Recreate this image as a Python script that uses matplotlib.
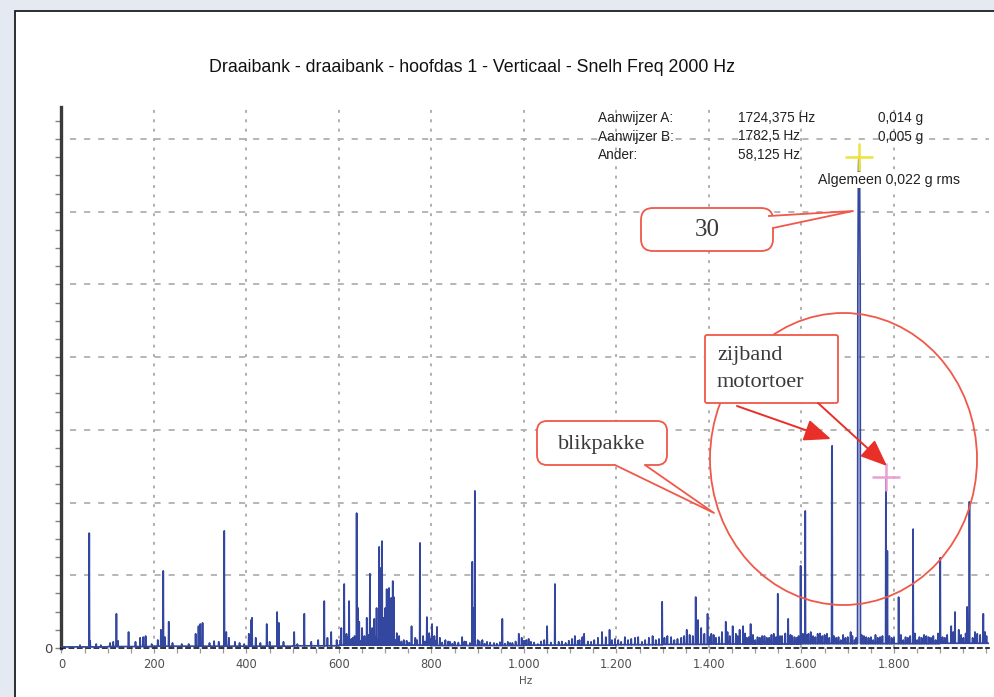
import numpy as np
import matplotlib
matplotlib.use('Agg')
import matplotlib.pyplot as plt
from matplotlib.patches import Rectangle, FancyBboxPatch, Ellipse, Polygon, FancyArrowPatch
from matplotlib.lines import Line2D
from matplotlib.transforms import Affine2D

W, H = 995, 697

# spectrum lines: frequency (Hz) and amplitude (mg)
peak_hz = [40, 60, 62, 75, 85, 105, 112, 119, 122, 145, 160, 170, 177, 182, 195,
           208, 215, 220, 224, 232, 240, 260, 275, 290, 296, 300, 305, 320, 330, 340,
           352, 356, 362, 375, 385, 395,
           405, 410, 412, 420, 430, 444, 450, 466, 470, 480, 503, 510, 525, 540, 555,
           568, 575, 583, 595,
           605, 611, 616, 622, 630, 638, 641, 644, 650, 655, 660, 667, 672, 676, 681,
           687, 690, 693, 697, 700, 703, 708, 713, 716, 719, 725, 730, 740, 757, 765,
           775, 782, 790, 795, 801,
           806, 812, 818, 830, 840, 850, 866, 875, 888, 891, 894, 900, 910, 920, 935,
           953, 965, 975, 989, 995,
           1005, 1015, 1030, 1050, 1067, 1075, 1090, 1110, 1120, 1130, 1145, 1160, 1169,
           1185, 1190,
           1210, 1225, 1240, 1255, 1270, 1285, 1299, 1310, 1325, 1340, 1352, 1365, 1371,
           1376, 1383, 1390, 1397,
           1405, 1415, 1428, 1436, 1445, 1451, 1458, 1466, 1474, 1482, 1490, 1500, 1510,
           1520, 1530, 1540, 1549, 1558, 1571, 1580, 1590, 1598, 1603,
           1608, 1615, 1625, 1635, 1645, 1655, 1660, 1665.625, 1666.25, 1675, 1685, 1695,
           1706, 1715,
           1721.875, 1722.5, 1723.125, 1723.75, 1724.375, 1725.0, 1725.625, 1726.25, 1726.875,
           1735, 1745, 1755, 1765, 1775, 1782.5, 1785.625, 1795, 1810, 1820, 1830, 1841,
           1850, 1860, 1870, 1880, 1890, 1900, 1910, 1924, 1932, 1940, 1950, 1958, 1963,
           1970, 1980, 1993, 2000]
peak_mg = [0.08, 3.16, 0.2, 0.11, 0.08, 0.14, 0.17, 0.94, 0.2, 0.44, 0.17, 0.28, 0.3, 0.33, 0.11,
           0.22, 0.5, 2.12, 0.3, 0.72, 0.14, 0.11, 0.11, 0.39, 0.6, 0.66, 0.69, 0.14, 0.19, 0.17,
           3.22, 0.44, 0.28, 0.17, 0.14, 0.11,
           0.39, 0.77, 0.83, 0.28, 0.14, 0.66, 0.17, 0.99, 0.69, 0.17, 0.44, 0.11, 0.94, 0.17, 0.22,
           1.29, 0.28, 0.44, 0.22,
           0.55, 1.76, 0.39, 1.29, 0.28, 3.71, 1.1, 0.72, 0.55, 0.33, 0.83, 2.04, 0.55, 0.8, 1.1,
           2.78, 2.2, 2.94, 0.83, 1.1, 1.62, 1.65, 1.38, 1.84, 1.4, 0.41, 0.33, 0.22, 0.6, 0.28,
           2.89, 0.33, 0.85, 0.41, 0.66,
           0.33, 0.58, 0.28, 0.22, 0.17, 0.17, 0.3, 0.17, 2.37, 1.1, 4.32, 0.22, 0.22, 0.17, 0.14,
           0.8, 0.17, 0.14, 0.39, 0.28,
           0.22, 0.17, 0.11, 0.6, 1.76, 0.17, 0.14, 0.33, 0.22, 0.39, 0.17, 0.28, 0.44,
           0.5, 0.22,
           0.17, 0.22, 0.28, 0.17, 0.28, 0.22, 1.27, 0.33, 0.22, 0.28, 0.5, 0.33, 1.4,
           0.77, 0.55, 0.39, 0.94,
           0.39, 0.28, 0.44, 0.72, 0.33, 0.6, 0.39, 0.5, 0.6, 0.28, 0.66, 0.22, 0.28,
           0.33, 0.28, 0.39, 1.49, 0.33, 0.8, 0.33, 0.28, 2.26, 0.39,
           3.77, 0.39, 0.33, 0.39, 0.33, 0.39, 0.28, 5.4, 5.56, 0.28, 0.22, 0.28,
           0.44, 0.22,
           10.0, 11.5, 13.0, 13.4, 13.5, 13.4, 13.0, 11.5, 10.0,
           0.33, 0.28, 0.22, 0.28, 0.33, 4.7, 2.67, 0.28, 1.4, 0.22, 0.28, 3.27,
           0.22, 0.28, 0.33, 0.28, 0.22, 2.48, 0.28, 0.6, 0.99, 0.5, 0.28, 1.13, 4.02,
           0.28, 0.39, 0.94, 0.33]

# small "grass" lines in the noise floor (Hz, mg)
grass_hz = [603, 618, 627, 634, 647, 652, 663, 679, 684, 711,
            722, 735, 746, 752, 769, 786, 798, 809, 823, 836,
            845, 858, 871, 883, 904, 915, 927, 941, 948, 959,
            970, 982, 1000, 1010, 1022, 1037, 1044, 1058, 1082, 1097,
            1104, 1116, 1126, 1138, 1152, 1177, 1197, 1204, 1218, 1232,
            1247, 1262, 1278, 1292, 1304, 1318, 1332, 1346, 1358, 1402,
            1410, 1422, 1440, 1462, 1478, 1486, 1495, 1505, 1515, 1525,
            1535, 1545, 1554, 1565, 1576, 1585, 1594, 1612, 1620, 1630,
            1640, 1650, 1670, 1680, 1690, 1700, 1710, 1718, 1730, 1740,
            1750, 1760, 1770, 1790, 1800, 1815, 1825, 1835, 1845, 1855,
            1865, 1875, 1885, 1895, 1905, 1915, 1928, 1945, 1955, 1975,
            1986, 1997]
grass_mg = [0.22, 0.3, 0.25, 0.33, 0.2, 0.28, 0.36, 0.3, 0.25, 0.3,
            0.22, 0.18, 0.2, 0.15, 0.22, 0.18, 0.25, 0.2, 0.15, 0.18,
            0.12, 0.15, 0.18, 0.14, 0.18, 0.12, 0.15, 0.12, 0.16, 0.12,
            0.14, 0.18, 0.2, 0.25, 0.15, 0.18, 0.22, 0.15, 0.18, 0.2,
            0.25, 0.2, 0.3, 0.18, 0.22, 0.3, 0.25, 0.22, 0.3, 0.25,
            0.3, 0.22, 0.33, 0.25, 0.28, 0.3, 0.25, 0.33, 0.36, 0.3,
            0.36, 0.3, 0.44, 0.33, 0.4, 0.3, 0.36, 0.3, 0.33, 0.28,
            0.36, 0.3, 0.33, 0.4, 0.36, 0.3, 0.33, 0.36, 0.44, 0.3,
            0.4, 0.36, 0.33, 0.3, 0.36, 0.3, 0.33, 0.28, 0.36, 0.3,
            0.3, 0.36, 0.3, 0.33, 0.28, 0.36, 0.3, 0.33, 0.4, 0.3,
            0.36, 0.3, 0.33, 0.4, 0.3, 0.36, 0.44, 0.36, 0.4, 0.44,
            0.36, 0.44]

# noise floor per 100 Hz band (mg)
floor_mg = [0.03, 0.04, 0.05, 0.05, 0.05, 0.06, 0.08, 0.08, 0.07, 0.07,
            0.08, 0.08, 0.09, 0.1, 0.11, 0.11, 0.12, 0.12, 0.12, 0.13]

bin_hz = 0.625
xtick_vals = [0, 200, 400, 600, 800, 1000, 1200, 1400, 1600, 1800]
xtick_text = ['0', '200', '400', '600', '800', '1.000', '1.200', '1.400', '1.600', '1.800']

cursor_a_hz, cursor_b_hz = 1724.375, 1782.5

freq = np.arange(0, 2006, bin_hz)
amp = np.array([floor_mg[min(int(f // 100), len(floor_mg) - 1)] for f in freq])
for f, a in zip(grass_hz + peak_hz, grass_mg + peak_mg):
    amp[int(round(f / bin_hz))] = a

fig = plt.figure(figsize=(W / 100, H / 100), dpi=100)
fig.patch.set_facecolor('#e4e9f2')
tr = Affine2D().scale(1, -1).translate(0, H)  # top-left pixel coordinates

fig.add_artist(Rectangle((15, 11), 1000, H, transform=tr, facecolor='white',
                         edgecolor='#1e1e1e', lw=1.3, zorder=-5))

ax = fig.add_axes([61.5 / W, (H - 648) / H, 927.3 / W, 541 / H])
ax.set_facecolor('none')
ax.set_xlim(0, 2005)
ax.set_ylim(0, 14.88)

for x in xtick_vals[1:]:
    ax.axvline(x, color='#a8a8a8', lw=1.3, ls=(0, (1.6, 3.6)), zorder=1)
for y in range(2, 15, 2):
    ax.axhline(y, xmin=0.009, color='#b0b0b0', lw=1.3, ls=(0, (3.4, 4.4)), zorder=1)

ax.plot(freq, amp, color='#3447a0', lw=1.25, zorder=3)

# cursors
ia = int(round(cursor_a_hz / bin_hz))
ib = int(round(cursor_b_hz / bin_hz))
ax.plot(freq[ia], amp[ia], marker='+', ms=20, mew=1.8, color='#ece23a', zorder=5, clip_on=False)
ax.plot(freq[ib], amp[ib], marker='+', ms=20, mew=1.8, color='#eaa0d2', zorder=5, clip_on=False)

ax.set_xticks(xtick_vals)
ax.set_xticklabels(xtick_text)
ax.set_xticks(np.arange(0, 2001, 50), minor=True)
ax.set_yticks(range(0, 15, 2))
ax.set_yticklabels(['0'] + [''] * 7)
ax.set_yticks(np.arange(0, 14.9, 0.5), minor=True)
ax.tick_params(axis='x', which='both', direction='out', length=3.5, width=0.9,
               color='#9a9a9a', labelsize=8.3, labelcolor='#505050', pad=4)
ax.tick_params(axis='y', which='both', direction='out', length=4.5, width=1,
               color='#808080', labelsize=9.5, labelcolor='#404040', pad=2)
for s in ['top', 'right']:
    ax.spines[s].set_visible(False)
ax.spines['left'].set_color('#3a3a3a')
ax.spines['left'].set_linewidth(2.4)
ax.spines['bottom'].set_color('#111111')
ax.spines['bottom'].set_linestyle((0, (2.5, 2.5)))
ax.spines['bottom'].set_linewidth(1.2)
ax.set_xlabel('Hz', fontsize=7.5, color='#505050', labelpad=3)

sans = ['Liberation Sans Narrow', 'Liberation Sans', 'DejaVu Sans']
fig.text(472, 67, 'Draaibank - draaibank - hoofdas 1 - Verticaal - Snelh Freq 2000 Hz',
         transform=tr, ha='center', va='center', fontsize=12.8, family=sans, color='#111111')

rows = [('Aanwijzer A:', '1724,375 Hz', '0,014 g'),
        ('Aanwijzer B:', '1782,5 Hz', '0,005 g'),
        ('Ander:', '58,125 Hz', '')]
for i, (a, b, c) in enumerate(rows):
    yy = 118 + i * 18.5
    fig.text(598, yy, a, transform=tr, va='center', fontsize=9.8, family=sans, color='#222')
    fig.text(738, yy, b, transform=tr, va='center', fontsize=9.8, family=sans, color='#222')
    if c:
        fig.text(878, yy, c, transform=tr, va='center', fontsize=9.8, family=sans, color='#222')
fig.text(818, 180, 'Algemeen 0,022 g rms', transform=tr, va='center', fontsize=10.2,
         family=sans, color='#222', zorder=6,
         bbox=dict(facecolor='white', edgecolor='none', pad=0.5))

# red callouts
red = '#f0584a'
serif = ['Liberation Serif', 'DejaVu Serif']


def callout(x0, y0, x1, y1, r, base0, base1, inner0, inner1, tip, text, size):
    fig.add_artist(FancyBboxPatch((x0, y0), x1 - x0, y1 - y0, transform=tr,
                                  boxstyle='round,pad=0,rounding_size=%g' % r,
                                  facecolor='white', edgecolor=red, lw=1.3, zorder=6))
    fig.add_artist(Polygon([inner0, base0, tip, base1, inner1], closed=True, transform=tr,
                           facecolor='white', edgecolor='none', zorder=7))
    fig.add_artist(Line2D([base0[0], tip[0], base1[0]], [base0[1], tip[1], base1[1]],
                          transform=tr, color=red, lw=1.3, zorder=8))
    fig.text((x0 + x1) / 2, (y0 + y1) / 2 + 1, text, transform=tr, ha='center', va='center',
             fontsize=size, family=serif, color='#3a3a3a', zorder=9)


callout(641, 208, 773, 251, 12, (769, 216), (773, 228), (762, 217), (762, 228),
        (853, 211), '30', 18)
callout(537, 421, 667, 465, 10, (615, 465), (645, 465), (615, 460), (645, 460),
        (714, 513), 'blikpakke', 16)

fig.add_artist(Ellipse((843.5, 459), 267, 292, transform=tr, fill=False,
                       edgecolor=red, lw=1.3, zorder=6))
fig.add_artist(FancyBboxPatch((705, 335), 133, 68, transform=tr,
                              boxstyle='round,pad=0,rounding_size=2',
                              facecolor='white', edgecolor=red, lw=1.3, zorder=7))
fig.text(717, 369, 'zijband\nmotortoer', transform=tr, ha='left', va='center',
         fontsize=16, family=serif, color='#3a3a3a', linespacing=1.55, zorder=9)
for start, end in [((737, 406), (831, 439)), ((818, 403), (887, 466))]:
    fig.add_artist(FancyArrowPatch(start, end, transform=tr, arrowstyle='-|>,head_length=1.1,head_width=0.45',
                                   mutation_scale=15, color='#e83028', lw=1.4, zorder=8,
                                   shrinkA=0, shrinkB=0))

fig.savefig('out.png', dpi=100, facecolor=fig.get_facecolor())
